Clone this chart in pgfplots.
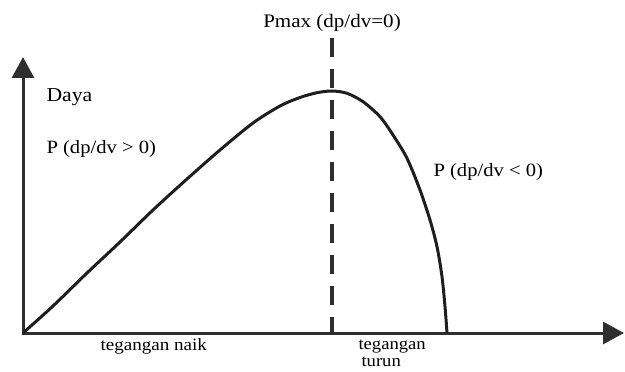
\documentclass[border=0pt]{standalone}
\usepackage{fontspec}
\setmainfont{Liberation Serif}[FakeStretch=1.1]
\usepackage{pgfplots}
\pgfplotsset{compat=1.18}
\usetikzlibrary{arrows.meta}

\definecolor{curveink}{HTML}{1E1E1E}
\definecolor{axisink}{HTML}{2E2E2E}
\definecolor{labelink}{HTML}{4A4A4A}

% Power-voltage characteristic: power rises with voltage up to Pmax, then drops
\pgfplotstableread{
v     p
0     0
30    27
64    60
97    91
130   123
164   154
197   183
230   210
257   227
277   235.5
294   240.3
309   242
324   239.7
340   231.3
357   216.3
370   198
384   174.7
397   143
407   113
414   86.3
419   56.3
422   26.3
424   0
}\pvcurve

\begin{document}
\begin{tikzpicture}[x=1bp,y=1bp]
\path[use as bounding box] (0,0) rectangle (625,371);
\begin{axis}[
  at={(23bp,38bp)}, anchor=south west,
  scale only axis, width=601bp, height=276bp,
  xmin=0, xmax=601, ymin=0, ymax=276,
  axis lines=left,
  axis line style={line width=3bp, axisink, line cap=rect,
    -{Triangle[width=22bp,length=21bp]}},
  xtick=\empty, ytick=\empty,
  clip=false,
  every node/.append style={text=labelink, inner sep=0pt},
]
  % dp/dv = 0 marker
  \addplot[axisink, line width=3.5bp, dash pattern=on 19bp off 12bp]
    coordinates {(309,295) (309,0)};
  % P-V curve
  \addplot[curveink, line width=3bp, smooth] table[x=v, y=p] {\pvcurve};

  \node[anchor=center, font=\fontsize{19.2}{20}\selectfont] at (axis cs:309,310) {Pmax (dp/dv=0)};
  \node[anchor=west, font=\fontsize{19.8}{20}\selectfont] at (axis cs:20,236) {Daya};
  \node[anchor=west, font=\fontsize{18.8}{20}\selectfont] at (axis cs:20,184) {P (dp/dv > 0)};
  \node[anchor=west, font=\fontsize{18.8}{20}\selectfont] at (axis cs:407,161) {P (dp/dv < 0)};
  \node[anchor=base west, font=\fontsize{17.4}{18}\selectfont] at (axis cs:74,-17) {tegangan naik};
  \node[anchor=base west, font=\fontsize{17}{18}\selectfont] at (axis cs:332,-16) {tegangan};
  \node[anchor=base west, font=\fontsize{17}{18}\selectfont] at (axis cs:335,-33.5) {turun};
\end{axis}
\end{tikzpicture}
\end{document}
